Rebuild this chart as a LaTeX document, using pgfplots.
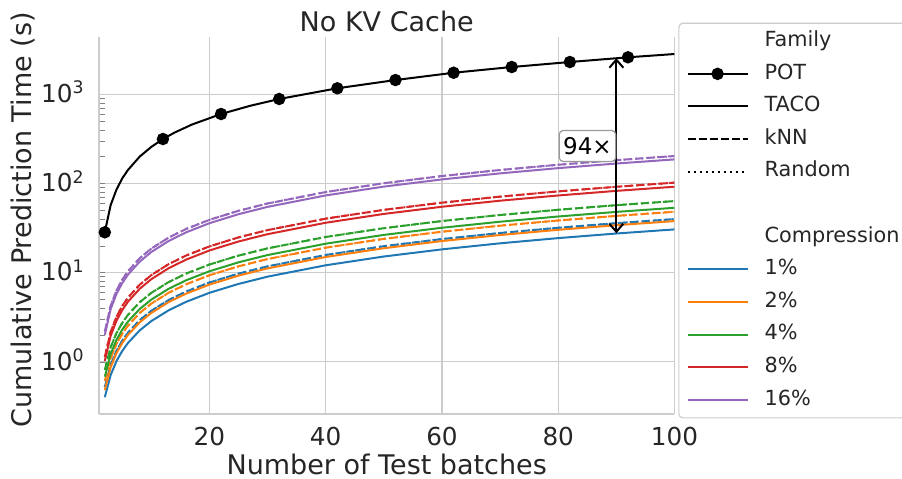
\documentclass[border=0pt]{standalone}
\usepackage{fontspec}
\setmainfont{DejaVu Sans}
\usepackage{pgfplots}
\usepackage{pgfplotstable}
\pgfplotsset{compat=1.18}
\usetikzlibrary{arrows.meta}

\definecolor{c1}{HTML}{1F77B4}
\definecolor{c2}{HTML}{FF7F0E}
\definecolor{c3}{HTML}{2CA02C}
\definecolor{c4}{HTML}{D62728}
\definecolor{c5}{HTML}{9467BD}
\definecolor{txt}{HTML}{262626}
\definecolor{gridc}{HTML}{CCCCCC}

% cumulative time per compression level: t = TACO, k = kNN (Random sits under kNN)
\pgfplotstableread{
x   bt     bk     ot     ok     gt     gk     rt     rk     pt      pk
2   0.40   0.52   0.48   0.61   0.68   0.81   1.02   1.13   2.00    2.18
3   0.707  0.921  0.861  1.095  1.217  1.449  1.946  2.159  3.878   4.229
4   1.014  1.322  1.242  1.579  1.754  2.087  2.873  3.189  5.755   6.278
5   1.321  1.722  1.622  2.064  2.291  2.726  3.799  4.218  7.633   8.327
6   1.629  2.123  2.003  2.548  2.828  3.365  4.725  5.247  9.510   10.377
8   2.243  2.925  2.765  3.518  3.902  4.642  6.578  7.306  13.265  14.475
10  2.857  3.727  3.527  4.487  4.976  5.919  8.431  9.364  17.020  18.573
13  3.779  4.929  4.669  5.940  6.586  7.835  11.210 12.452 22.653  24.721
16  4.70   6.131  5.811  7.394  8.197  9.751  13.989 15.540 28.286  30.868
20  5.93   7.735  7.335  9.333  10.345 12.306 17.694 19.657 35.796  39.064
25  7.46   9.739  9.239  11.756 13.030 15.499 22.326 24.804 45.184  49.310
30  9.00   11.743 11.143 14.179 15.714 18.693 26.957 29.950 54.571  59.556
40  12.07  15.751 14.951 19.024 21.084 25.080 36.220 40.243 73.347  80.049
50  15.14  19.759 18.759 23.870 26.453 31.466 45.484 50.536 92.122  100.54
60  18.21  23.767 22.568 28.716 31.823 37.853 54.747 60.829 110.898 121.03
70  21.29  27.776 26.376 33.562 37.192 44.240 64.010 71.121 129.673 141.52
80  24.36  31.784 30.184 38.408 42.561 50.626 73.274 81.414 148.449 162.02
90  27.43  35.792 33.992 43.254 47.931 57.013 82.537 91.707 167.224 182.51
100 30.5   39.8   37.8   48.1   53.3   63.4   91.8   102    186     203
}\comp

\pgfplotstableread{
x   y
2   28.3
3   57
4   85
5   114
6   142
8   200
10  257
12  315
14  372
17  458
22  601
27  743
32  886
42  1168
52  1445
62  1745
72  2023
82  2302
92  2600
100 2830
}\pot

\pgfplotstableread{
x   y
2   28.3
12  315
22  601
32  886
42  1168
52  1445
62  1745
72  2023
82  2302
92  2600
}\potmarks

\begin{document}
\begin{tikzpicture}
\begin{axis}[
  at={(0,0)}, anchor=south west,
  width=287.75pt, height=188.5pt, scale only axis,
  xmin=1, xmax=100,
  ymode=log, ymin=0.259, ymax=4395,
  axis lines*=left,
  axis line style={gridc, line width=0.6pt, -},
  xtick={20,40,60,80,100},
  xticklabels={20,40,60,80,100},
  ytick={1,10,100,1000},
  yticklabels={10\textsuperscript{0},10\textsuperscript{1},10\textsuperscript{2},10\textsuperscript{3}},
  minor ytick={},
  major tick length=0pt,
  grid=major,
  major grid style={gridc, line width=0.6pt},
  tick label style={text=txt, font=\fontsize{12.35}{14}\selectfont},
  xticklabel style={anchor=base, inner sep=0pt, yshift=-15.85pt},
  yticklabel style={anchor=base east, inner sep=0pt, xshift=-7pt, yshift=-4.2pt},
  title={No KV Cache},
  title style={at={(axis description cs:0.5,1.0151)}, anchor=base, inner sep=0pt, yshift=-6pt,
    text=txt, font=\fontsize{13.5}{16}\selectfont},
  xlabel={Number of Test batches},
  xlabel style={at={(axis description cs:0.5,-0.161)}, anchor=base, inner sep=0pt,
    text=txt, font=\fontsize{13.5}{16}\selectfont},
  ylabel={Cumulative Prediction Time (s)},
  ylabel style={at={(axis description cs:-0.1175,0.5146)}, anchor=base, inner sep=0pt,
    text=txt, font=\fontsize{13.5}{16}\selectfont},
  legend cell align=left,
  legend image code/.code={\draw[mark repeat=2,mark phase=2,#1] plot coordinates {(0pt,0pt) (15pt,0pt) (30pt,0pt)};},
  legend style={at={(axis description cs:1.0066,1.038)}, anchor=north west,
    draw=gridc, line width=0.6pt, rounded corners=2pt, fill=white,
    font=\fontsize{10.4}{12}\selectfont, text=txt,
    inner xsep=3.85pt, inner ysep=4pt, row sep=6.3pt, column sep=8pt,
    nodes={inner sep=0pt, text height=7.6pt, text depth=2.4pt}},
  every axis plot/.append style={line width=1pt},
]
% Random (dotted), kNN (dashed), TACO (solid)
\addplot[forget plot, c1, dash pattern=on 1pt off 2pt] table[x=x, y=bk] {\comp};
\addplot[forget plot, c2, dash pattern=on 1pt off 2pt] table[x=x, y=ok] {\comp};
\addplot[forget plot, c3, dash pattern=on 1pt off 2pt] table[x=x, y=gk] {\comp};
\addplot[forget plot, c4, dash pattern=on 1pt off 2pt] table[x=x, y=rk] {\comp};
\addplot[forget plot, c5, dash pattern=on 1pt off 2pt] table[x=x, y=pk] {\comp};

\addplot[forget plot, c1, dash pattern=on 4pt off 1.5pt] table[x=x, y=bk] {\comp};
\addplot[forget plot, c2, dash pattern=on 4pt off 1.5pt] table[x=x, y=ok] {\comp};
\addplot[forget plot, c3, dash pattern=on 4pt off 1.5pt] table[x=x, y=gk] {\comp};
\addplot[forget plot, c4, dash pattern=on 4pt off 1.5pt] table[x=x, y=rk] {\comp};
\addplot[forget plot, c5, dash pattern=on 4pt off 1.5pt] table[x=x, y=pk] {\comp};

\addplot[forget plot, c1] table[x=x, y=bt] {\comp};
\addplot[forget plot, c2] table[x=x, y=ot] {\comp};
\addplot[forget plot, c3] table[x=x, y=gt] {\comp};
\addplot[forget plot, c4] table[x=x, y=rt] {\comp};
\addplot[forget plot, c5] table[x=x, y=pt] {\comp};

% POT
\addplot[forget plot, black] table[x=x, y=y] {\pot};
\addplot[forget plot, only marks, black, mark=*, mark size=2.6pt] table[x=x, y=y] {\potmarks};

% speed-up annotation
\draw[{Straight Barb[length=4pt,width=7pt]}-{Straight Barb[length=4pt,width=7pt]}, black, line width=1pt]
  (axis cs:90,2540) -- (axis cs:90,27.6);
\node[anchor=east, draw=gray!80, fill=white, rounded corners=2pt, line width=0.6pt,
  inner xsep=2pt, minimum height=15.5pt, text=black, font=\fontsize{11.5}{13}\selectfont]
  at (axis cs:90,263) {94×};

% legend
\addlegendimage{empty legend}\addlegendentry{Family}
\addlegendimage{black, line width=1pt, mark=*, mark size=2.6pt}\addlegendentry{POT}
\addlegendimage{black, line width=1pt}\addlegendentry{TACO}
\addlegendimage{black, line width=1pt, dash pattern=on 4pt off 1.5pt}\addlegendentry{kNN}
\addlegendimage{black, line width=1pt, dash pattern=on 1pt off 2pt}\addlegendentry{Random}
\addlegendimage{empty legend}\addlegendentry{}
\addlegendimage{empty legend}\addlegendentry{Compression}
\addlegendimage{c1, line width=1pt}\addlegendentry{1\%}
\addlegendimage{c2, line width=1pt}\addlegendentry{2\%}
\addlegendimage{c3, line width=1pt}\addlegendentry{4\%}
\addlegendimage{c4, line width=1pt}\addlegendentry{8\%}
\addlegendimage{c5, line width=1pt}\addlegendentry{16\%}
\end{axis}
\pgfresetboundingbox
\path[use as bounding box] (-49.5pt,-32pt) rectangle (401.5pt,207pt);
\end{tikzpicture}
\end{document}
